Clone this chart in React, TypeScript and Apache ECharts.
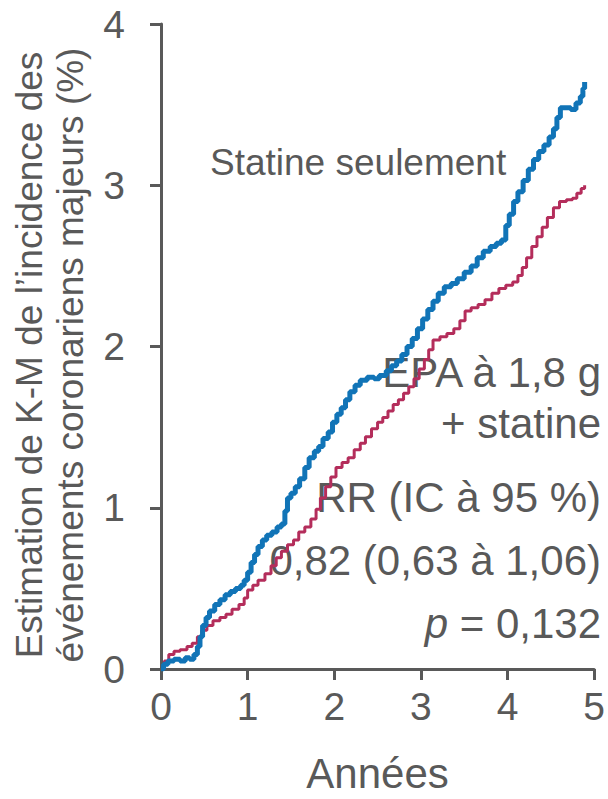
import React, { useEffect, useRef } from "react";
import * as echarts from "echarts";

const xTicks = [0, 1, 2, 3, 4, 5];
const yTicks = [0, 1, 2, 3, 4];

// Statine seulement (blue) — [années, %]
const statineSeule: [number, number][] = [
  [0, 0], [0.03, 0.03], [0.08, 0.05], [0.15, 0.06], [0.22, 0.05], [0.28, 0.07], [0.33, 0.06], [0.38, 0.09],
  [0.42, 0.14], [0.45, 0.2], [0.48, 0.27], [0.52, 0.32], [0.56, 0.36], [0.62, 0.4], [0.68, 0.43], [0.74, 0.46],
  [0.8, 0.48], [0.86, 0.5], [0.92, 0.52], [0.96, 0.55], [1.0, 0.6], [1.04, 0.66], [1.08, 0.71], [1.12, 0.76],
  [1.17, 0.8], [1.22, 0.83], [1.28, 0.85], [1.34, 0.88], [1.39, 0.9], [1.43, 0.98], [1.46, 1.06], [1.5, 1.09],
  [1.55, 1.13], [1.6, 1.18], [1.66, 1.25], [1.71, 1.31], [1.77, 1.35], [1.82, 1.38], [1.87, 1.43], [1.93, 1.47],
  [1.98, 1.53], [2.03, 1.58], [2.08, 1.62], [2.13, 1.67], [2.18, 1.72], [2.24, 1.76], [2.3, 1.79], [2.38, 1.81],
  [2.46, 1.8], [2.52, 1.82], [2.6, 1.85], [2.66, 1.88], [2.72, 1.91], [2.78, 1.95], [2.84, 2.0], [2.9, 2.05],
  [2.96, 2.11], [3.02, 2.17], [3.08, 2.23], [3.14, 2.28], [3.2, 2.33], [3.27, 2.37], [3.35, 2.39], [3.42, 2.42],
  [3.5, 2.46], [3.58, 2.5], [3.65, 2.55], [3.72, 2.59], [3.8, 2.62], [3.87, 2.64], [3.93, 2.66], [3.98, 2.75],
  [4.02, 2.82], [4.07, 2.9], [4.12, 2.96], [4.18, 3.03], [4.24, 3.1], [4.3, 3.16], [4.36, 3.21], [4.42, 3.25],
  [4.48, 3.3], [4.53, 3.35], [4.57, 3.42], [4.61, 3.48], [4.67, 3.48], [4.73, 3.47], [4.79, 3.51], [4.84, 3.55],
  [4.87, 3.6], [4.89, 3.64],
];

// EPA à 1,8 g + statine (crimson) — [années, %]
const epaStatine: [number, number][] = [
  [0, 0], [0.04, 0.05], [0.09, 0.09], [0.15, 0.11], [0.22, 0.12], [0.3, 0.14], [0.36, 0.16], [0.42, 0.2],
  [0.47, 0.24], [0.53, 0.27], [0.6, 0.3], [0.68, 0.32], [0.75, 0.34], [0.82, 0.37], [0.9, 0.4], [0.96, 0.44],
  [1.0, 0.49], [1.06, 0.52], [1.12, 0.55], [1.2, 0.59], [1.27, 0.64], [1.33, 0.69], [1.39, 0.73], [1.46, 0.77],
  [1.53, 0.8], [1.59, 0.85], [1.66, 0.88], [1.73, 0.93], [1.79, 0.99], [1.84, 1.06], [1.9, 1.13], [1.96, 1.19],
  [2.02, 1.25], [2.09, 1.28], [2.16, 1.31], [2.23, 1.36], [2.3, 1.4], [2.36, 1.44], [2.43, 1.49], [2.5, 1.53],
  [2.56, 1.56], [2.62, 1.6], [2.68, 1.64], [2.74, 1.67], [2.8, 1.71], [2.86, 1.75], [2.92, 1.8], [2.98, 1.86],
  [3.04, 1.92], [3.09, 1.98], [3.14, 2.04], [3.22, 2.06], [3.3, 2.08], [3.38, 2.11], [3.45, 2.16], [3.51, 2.22],
  [3.58, 2.24], [3.66, 2.26], [3.74, 2.29], [3.82, 2.33], [3.9, 2.36], [3.98, 2.38], [4.06, 2.4], [4.12, 2.44],
  [4.17, 2.49], [4.22, 2.55], [4.28, 2.62], [4.34, 2.68], [4.4, 2.74], [4.46, 2.8], [4.53, 2.86], [4.6, 2.9],
  [4.68, 2.91], [4.75, 2.92], [4.8, 2.95], [4.85, 2.98], [4.89, 3.0],
];

const labels = {
  yTitle: "Estimation de K-M de l’incidence des\névénements coronariens majeurs (%)",
  xTitle: "Années",
  statine: "Statine seulement",
  epa1: "EPA à 1,8 g",
  epa2: "+ statine",
  rr1: "RR (IC à 95 %)",
  rr2: "0,82 (0,63 à 1,06)",
  pval: "= 0,132",
};

const GREY = "#595959";
const FONT = "'Liberation Sans', Arial, Helvetica, sans-serif";

export default function App() {
  const ref = useRef<HTMLDivElement>(null);
  useEffect(() => {
    if (!ref.current) return;
    const chart = echarts.init(ref.current, undefined, { renderer: "svg" });
    const axisCommon = {
      axisLine: { show: true, lineStyle: { color: GREY, width: 3 } },
      axisTick: { show: true, length: 11, inside: false, lineStyle: { color: GREY, width: 3 } },
      splitLine: { show: false },
    };
    chart.setOption({
      animation: false,
      backgroundColor: "#ffffff",
      grid: { left: 161, right: 13, top: 24, bottom: 127, containLabel: false },
      xAxis: {
        type: "value",
        min: xTicks[0],
        max: xTicks[xTicks.length - 1],
        interval: 1,
        ...axisCommon,
        axisLabel: { color: GREY, fontSize: 39, fontFamily: FONT, margin: 18 },
        name: labels.xTitle,
        nameLocation: "middle",
        nameGap: 83,
        nameTextStyle: { color: GREY, fontSize: 42, fontFamily: FONT },
      },
      yAxis: {
        type: "value",
        min: yTicks[0],
        max: yTicks[yTicks.length - 1],
        interval: 1,
        ...axisCommon,
        axisLabel: { color: GREY, fontSize: 39, fontFamily: FONT, margin: 36 },
      },
      series: [
        {
          name: labels.statine,
          type: "line",
          step: "end",
          showSymbol: false,
          data: statineSeule,
          lineStyle: { color: "#1174b7", width: 5 },
          z: 3,
        },
        {
          name: labels.epa1,
          type: "line",
          step: "end",
          showSymbol: false,
          data: epaStatine,
          lineStyle: { color: "#b42d5b", width: 3 },
          z: 2,
        },
      ],
      graphic: [
        {
          type: "text",
          x: 50,
          y: 355,
          rotation: Math.PI / 2,
          style: {
            text: labels.yTitle,
            fill: GREY,
            font: `37px ${FONT}`,
            align: "center",
            verticalAlign: "middle",
            lineHeight: 41,
          },
        },
        {
          type: "text",
          x: 210,
          y: 162,
          style: { text: labels.statine, fill: GREY, font: `37px ${FONT}`, align: "left", verticalAlign: "middle" },
        },
        {
          type: "text",
          x: 601,
          y: 372,
          style: { text: labels.epa1, fill: GREY, font: `42px ${FONT}`, align: "right", verticalAlign: "middle" },
        },
        {
          type: "text",
          x: 601,
          y: 423,
          style: { text: labels.epa2, fill: GREY, font: `42px ${FONT}`, align: "right", verticalAlign: "middle" },
        },
        {
          type: "text",
          x: 601,
          y: 497,
          style: { text: labels.rr1, fill: GREY, font: `42px ${FONT}`, align: "right", verticalAlign: "middle" },
        },
        {
          type: "text",
          x: 601,
          y: 560,
          style: { text: labels.rr2, fill: GREY, font: `42px ${FONT}`, align: "right", verticalAlign: "middle" },
        },
        {
          type: "text",
          x: 601,
          y: 623,
          style: {
            text: "{i|p} " + labels.pval,
            fill: GREY,
            font: `42px ${FONT}`,
            align: "right",
            verticalAlign: "middle",
            rich: {
              i: { fill: GREY, fontStyle: "italic", fontSize: 42, fontFamily: FONT },
            },
          },
        },
      ],
    });
    return () => chart.dispose();
  }, []);
  return <div ref={ref} style={{ width: 608, height: 799, position: "absolute", left: 0, top: 0 }} />;
}
